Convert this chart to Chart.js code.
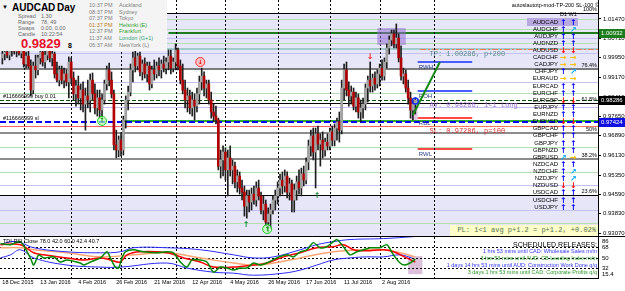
<!DOCTYPE html>
<html>
<head>
<meta charset="utf-8">
<script src="https://cdn.jsdelivr.net/npm/chart.js@4.4.0/dist/chart.umd.min.js"></script>
<style>
  body { margin: 0; width: 625px; height: 291px; overflow: hidden; background: #fff; position: relative; font-family: "Liberation Sans", Arial, sans-serif; }
  canvas { position: absolute; left: 0; }
  #main { top: 0; }
  #osc { top: 236px; }
  .t { position: absolute; white-space: nowrap; line-height: 1; }
  #info { position: absolute; left: 0; top: 0; width: 167px; height: 51px; background: #f4f4f4; }
  #info .lab { font-size: 5.5px; color: #6a6a6a; }
  #info .tm { font-size: 5.5px; color: #808080; }
  .pair { position: absolute; font-size: 6px; color: #000; text-align: right; width: 50px; left: 508px; line-height: 7px; }
  .arr { position: absolute; font-family: "DejaVu Sans", sans-serif; font-weight: bold; font-size: 8px; line-height: 7px; }
</style>
</head>
<body>
<canvas id="main" width="625" height="237"></canvas>
<canvas id="osc" width="625" height="55"></canvas>

<div id="info">
  <div class="t" style="left:2px;top:4px;font-size:6px">▼</div>
  <div class="t" style="left:12px;top:3px;font-size:10px;font-weight:bold">AUDCAD</div>
  <div class="t" style="left:57px;top:3px;font-size:10px;font-weight:bold">Day</div>
  <div class="t lab" style="left:18px;top:14px">Spread</div><div class="t lab" style="left:41px;top:14px">1.30</div>
  <div class="t lab" style="left:18px;top:20px">Range</div><div class="t lab" style="left:41px;top:20px">78, 49</div>
  <div class="t lab" style="left:18px;top:26px">Swaps</div><div class="t lab" style="left:41px;top:26px">0.00, 0.00</div>
  <div class="t lab" style="left:18px;top:32px">Candle</div><div class="t lab" style="left:41px;top:32px">10:22:54</div>
  <div class="t" style="left:21px;top:37px;font-size:13px;font-weight:bold;color:#e8102c">0.9829</div>
  <div class="t" style="left:68px;top:42px;font-size:7px;font-weight:bold">8</div>
  <div class="t tm" style="left:89px;top:3px">10:37 PM</div><div class="t tm" style="left:119px;top:3px">Auckland</div>
  <div class="t tm" style="left:89px;top:10px">08:37 PM</div><div class="t tm" style="left:119px;top:10px">Sydney</div>
  <div class="t tm" style="left:89px;top:16px">07:37 PM</div><div class="t tm" style="left:119px;top:16px">Tokyo</div>
  <div class="t tm" style="left:89px;top:23px;color:#c07a20">01:37 PM</div><div class="t tm" style="left:119px;top:23px;color:#2f9f2f">Helsinki (E)</div>
  <div class="t tm" style="left:89px;top:29px">12:37 PM</div><div class="t tm" style="left:119px;top:29px;color:#2f9f2f">Frankfurt</div>
  <div class="t tm" style="left:89px;top:36px">11:37 AM</div><div class="t tm" style="left:119px;top:36px;color:#2fa07a">London (G+1)</div>
  <div class="t tm" style="left:89px;top:43px">06:37 AM</div><div class="t tm" style="left:119px;top:43px">NewYork (L)</div>
</div>

<div class="t" style="right:26px;top:3px;font-size:5.5px">autoslautotp-mod-TP-200 SL-100 ©</div>
<div class="t" style="left:560px;top:12px;font-size:5.5px">D1 W1</div>
<div style="position:absolute;left:527px;top:18px;width:51px;height:8px;background:#b8a8e0"></div>
<div id="pairs"></div>

<div class="t" style="left:450px;top:225px;width:146px;height:11px;background:#ffffc8;font-family:'Liberation Mono',monospace;font-size:7px;color:#4f6f4f;text-align:right;line-height:11px;padding-right:2px">PL: 1&lt;1 avg p+1.2 = p+1.2, +0.02%</div>

<div class="t" style="left:3px;top:239px;font-size:5.5px">TDI RSI Close 78.0 42.0 60.0 42.4 40.7</div>
<div class="t" style="right:28px;top:241px;text-align:right;line-height:7px;font-size:5.5px">
  <div style="font-size:7px;color:#000">SCHEDULED RELEASES:</div>
  <div style="color:#3434ff">1 hrs 53 mins until CAD: Wholesale Sales m/m</div>
  <div style="color:#2a9a2a">3 hrs 53 mins until AUD: CB Leading Index m/m</div>
  <div style="color:#3434ff">1 days 14 hrs 53 mins until AUD: Construction Work Done q/q</div>
  <div style="color:#2a9a2a">3 days 1 hrs 53 mins until CAD: Corporate Profits q/q</div>
</div>

<script>
const FONT = '"Liberation Sans", Arial, sans-serif';

// ===== daily AUDCAD candles, 18 Dec 2015 .. 22 Aug 2016 =====
const open = [0.9994,1.0009,1.0017,1.0005,1.0025,1.0033,1.0021,1.0029,1.0013,1.0025,
  0.9970,1.0001,0.9962,0.9868,0.9962,0.9947,0.9994,1.0017,0.9978,1.0005,
  1.0025,0.9994,1.0009,0.9931,0.9907,0.9947,0.9907,0.9931,0.9900,0.9978,
  0.9915,0.9853,0.9884,0.9837,0.9868,0.9813,0.9845,0.9829,0.9907,0.9853,
  0.9798,0.9837,0.9790,0.9829,0.9892,0.9947,0.9907,0.9853,0.9653,0.9633,
  0.9672,0.9633,0.9751,0.9829,0.9860,0.9947,0.9994,0.9962,1.0001,0.9939,
  0.9970,0.9931,0.9962,0.9892,0.9947,0.9931,0.9962,0.9947,0.9970,0.9954,
  0.9978,1.0001,0.9954,0.9978,1.0025,0.9962,0.9907,0.9868,0.9829,0.9845,
  0.9798,0.9829,0.9805,0.9853,0.9900,0.9923,0.9876,0.9892,0.9829,0.9782,
  0.9766,0.9751,0.9570,0.9594,0.9625,0.9555,0.9602,0.9555,0.9570,0.9508,
  0.9531,0.9484,0.9468,0.9413,0.9453,0.9429,0.9460,0.9437,0.9484,0.9453,
  0.9398,0.9421,0.9351,0.9382,0.9398,0.9437,0.9453,0.9484,0.9515,0.9492,
  0.9531,0.9468,0.9500,0.9437,0.9476,0.9508,0.9484,0.9539,0.9515,0.9586,
  0.9649,0.9688,0.9625,0.9696,0.9656,0.9672,0.9633,0.9664,0.9649,0.9704,
  0.9672,0.9719,0.9743,0.9711,0.9876,0.9947,0.9868,0.9845,0.9860,0.9805,
  0.9837,0.9782,0.9798,0.9813,0.9876,0.9907,0.9884,0.9915,0.9892,0.9931,
  0.9954,0.9923,0.9978,1.0033,1.0064,1.0088,1.0049,1.0072,0.9994,0.9923,
  0.9931,0.9876,0.9837,0.9790,0.9813];
const high = [1.0025,1.0037,1.0045,1.0033,1.0049,1.0056,1.0045,1.0052,1.0041,1.0041,
  1.0017,1.0025,0.9986,0.9978,1.0005,1.0005,1.0033,1.0041,1.0025,1.0045,
  1.0049,1.0033,1.0017,0.9978,0.9962,0.9962,0.9954,0.9947,0.9998,0.9994,
  0.9939,0.9907,0.9923,0.9892,0.9900,0.9876,0.9907,0.9931,0.9935,0.9892,
  0.9868,0.9868,0.9853,0.9907,0.9962,0.9974,0.9939,0.9868,0.9711,0.9688,
  0.9700,0.9766,0.9845,0.9884,0.9970,1.0017,1.0025,1.0013,1.0017,0.9986,
  0.9994,0.9978,0.9978,0.9962,0.9986,0.9978,0.9994,0.9986,1.0001,0.9994,
  1.0025,1.0025,0.9994,1.0049,1.0033,0.9986,0.9970,0.9907,0.9876,0.9868,
  0.9860,0.9853,0.9876,0.9923,0.9954,0.9939,0.9907,0.9907,0.9860,0.9813,
  0.9805,0.9758,0.9633,0.9649,0.9641,0.9633,0.9649,0.9594,0.9586,0.9555,
  0.9547,0.9515,0.9492,0.9476,0.9476,0.9484,0.9492,0.9508,0.9515,0.9468,
  0.9453,0.9437,0.9406,0.9421,0.9453,0.9476,0.9508,0.9539,0.9547,0.9555,
  0.9547,0.9523,0.9515,0.9500,0.9531,0.9555,0.9562,0.9570,0.9602,0.9672,
  0.9711,0.9719,0.9719,0.9727,0.9696,0.9704,0.9680,0.9696,0.9719,0.9727,
  0.9735,0.9758,0.9782,0.9907,0.9970,0.9978,0.9900,0.9884,0.9876,0.9860,
  0.9853,0.9829,0.9837,0.9892,0.9923,0.9978,0.9931,0.9939,0.9947,0.9970,
  0.9986,0.9994,1.0049,1.0080,1.0103,1.0103,1.0127,1.0088,1.0041,0.9954,
  0.9947,0.9907,0.9860,0.9829,0.9837];
const low = [0.9970,0.9986,0.9994,0.9986,1.0001,1.0009,0.9998,1.0005,0.9994,0.9958,
  0.9954,0.9954,0.9845,0.9853,0.9915,0.9927,0.9970,0.9962,0.9954,0.9986,
  0.9978,0.9962,0.9915,0.9900,0.9884,0.9892,0.9876,0.9884,0.9837,0.9892,
  0.9829,0.9805,0.9813,0.9790,0.9782,0.9711,0.9798,0.9782,0.9829,0.9774,
  0.9766,0.9758,0.9766,0.9813,0.9868,0.9884,0.9837,0.9633,0.9602,0.9606,
  0.9609,0.9613,0.9719,0.9790,0.9845,0.9900,0.9939,0.9947,0.9923,0.9907,
  0.9915,0.9900,0.9868,0.9876,0.9907,0.9915,0.9923,0.9915,0.9939,0.9931,
  0.9947,0.9931,0.9939,0.9947,0.9947,0.9892,0.9853,0.9798,0.9782,0.9774,
  0.9766,0.9751,0.9782,0.9813,0.9868,0.9845,0.9837,0.9813,0.9758,0.9743,
  0.9735,0.9555,0.9523,0.9531,0.9515,0.9453,0.9531,0.9500,0.9484,0.9468,
  0.9460,0.9437,0.9374,0.9366,0.9390,0.9398,0.9421,0.9413,0.9437,0.9382,
  0.9359,0.9335,0.9312,0.9327,0.9382,0.9398,0.9421,0.9453,0.9460,0.9468,
  0.9445,0.9437,0.9390,0.9390,0.9437,0.9460,0.9453,0.9492,0.9500,0.9555,
  0.9609,0.9594,0.9484,0.9633,0.9570,0.9602,0.9609,0.9633,0.9633,0.9649,
  0.9649,0.9672,0.9664,0.9696,0.9829,0.9845,0.9805,0.9813,0.9790,0.9782,
  0.9758,0.9743,0.9758,0.9790,0.9821,0.9860,0.9860,0.9868,0.9876,0.9884,
  0.9907,0.9907,0.9954,1.0009,1.0041,1.0033,1.0033,0.9978,0.9907,0.9892,
  0.9860,0.9813,0.9758,0.9751,0.9774];
const close = [1.0009,1.0017,1.0005,1.0025,1.0033,1.0021,1.0029,1.0013,1.0025,0.9970,
  1.0001,0.9962,0.9868,0.9962,0.9947,0.9994,1.0017,0.9978,1.0005,1.0025,
  0.9994,1.0009,0.9931,0.9907,0.9947,0.9907,0.9931,0.9900,0.9978,0.9915,
  0.9853,0.9884,0.9837,0.9868,0.9813,0.9845,0.9829,0.9907,0.9853,0.9798,
  0.9837,0.9790,0.9829,0.9892,0.9947,0.9907,0.9853,0.9653,0.9633,0.9672,
  0.9633,0.9751,0.9829,0.9860,0.9947,0.9994,0.9962,1.0001,0.9939,0.9970,
  0.9931,0.9962,0.9892,0.9947,0.9931,0.9962,0.9947,0.9970,0.9954,0.9978,
  1.0001,0.9954,0.9978,1.0025,0.9962,0.9907,0.9868,0.9829,0.9845,0.9798,
  0.9829,0.9805,0.9853,0.9900,0.9923,0.9876,0.9892,0.9829,0.9782,0.9766,
  0.9751,0.9570,0.9594,0.9625,0.9555,0.9602,0.9555,0.9570,0.9508,0.9531,
  0.9484,0.9468,0.9413,0.9453,0.9429,0.9460,0.9437,0.9484,0.9453,0.9398,
  0.9421,0.9351,0.9382,0.9398,0.9437,0.9453,0.9484,0.9515,0.9492,0.9531,
  0.9468,0.9500,0.9437,0.9476,0.9508,0.9484,0.9539,0.9515,0.9586,0.9649,
  0.9688,0.9625,0.9696,0.9656,0.9672,0.9633,0.9664,0.9649,0.9704,0.9672,
  0.9719,0.9743,0.9711,0.9876,0.9947,0.9868,0.9845,0.9860,0.9805,0.9837,
  0.9782,0.9798,0.9813,0.9876,0.9907,0.9884,0.9915,0.9892,0.9931,0.9954,
  0.9923,0.9978,1.0033,1.0064,1.0088,1.0049,1.0072,0.9994,0.9923,0.9931,
  0.9876,0.9837,0.9790,0.9813,0.9829];

// axis labels
const dateLabels = ['18 Dec 2015','13 Jan 2016','4 Feb 2016','26 Feb 2016','21 Mar 2016','12 Apr 2016','4 May 2016','26 May 2016','17 Jun 2016','11 Jul 2016','2 Aug 2016'];
const dateBars = [0,16,32,48,64,80,96,112,128,144,160];
const monthBars = [9,29,50,73,94,116,138,159,182];
const priceTicks = [1.0147,1.0071,0.9995,0.9917,0.9841,0.9765,0.9689,0.9613,0.9535,0.9459,0.9383,0.9307];
const rsiTicks = [15.4,32,50,68,86];

// ===== levels on the price chart =====
const fibPrices = [1.0170,0.9951,0.9817,0.9700,0.9598,0.9457];
const fibNames = ['100%','76.4%','61.8%','50%','38.2%','23.6%'];
const pivotGreen = [1.0147,1.0107,1.0052,0.9856,0.9645,0.9547,0.9347];
const pivotLav = [1.0072,1.0013,0.9900,0.9802,0.9496,0.9398];
const tpPrice = 1.00286, avPrice = 0.98286, slPrice = 0.97286, slOrder = 0.97424;
const highLine = 1.00932, supportLine = 0.9747;
const rangeNames = ['RWH','ROH','RBL','RWL'];
const rangePrices = [0.9978,0.9864,0.9758,0.9637];
const axisTags = [1.00932,0.98286,0.97424];
const upArrows = [[102.7,0.9339],[132.6,0.9453]];
const downArrows = [[155,0.9998]];
const buyCircles = [[42,0.9747],[111.6,0.9323]];
const sellCircles = [[83.4,0.9978]];
const trendArrow = [[173,0.9770],[184.4,0.9978]];
const boxes = [[158,1.0111,170,1.0045],[172,0.9829,175,0.9751]];

// ===== TDI (RSI panel) =====
const tdiGreenX = [-0.8,3.4,7.6,11.8,13.2,15.3,17.4,21.6,24.4,27.2,32.8,34.3,37.1,41.3,44.1,45.5,47.6,49,50.4,51.8,55.3,59.5,65.1,69.3,72.1,75,77.8,79.9,83.4,86.2,89,91.8,94.6,97.4,100.2,103,105.8,108.6,111.4,115.7,119.9,122.7,125.5,128.3,131.1,133.9,136.7,139.5,141,143.7,146.5,149.3,152.1,155,159.2,162,164.8,167.6,169.7,172.5,174];
const tdiGreen = [74.6,72.8,78,50,37.7,55.3,50,51.8,43,46.5,41.2,37.7,43,50,60.5,50,34.2,32.5,50,60.5,64,60.5,58.8,60.5,58.8,43,34.2,46.5,46.5,43,25.4,34.2,32.5,29,32.5,32.5,41.2,37.7,41.2,50,55.3,51.8,60.5,64,76.3,67.5,69.3,78,81.6,69.3,55.3,60.5,64,67.5,67.5,72.8,55.3,41.2,37.7,43,48];
const tdiRedX = [-0.8,7.6,13.2,17.4,27.2,34.3,41.3,45.5,49.7,52.5,58.1,69.3,76.4,83.4,89,97.4,105.8,111.4,118.5,125.5,132.5,139.5,143.7,148,153.5,160.6,164.8,170.4,174];
const tdiRed = [72.8,72.8,58.8,55.3,50,46.5,50,46.5,43,55.3,60.5,58.8,50,43,34.2,34.2,37.7,41.2,51.8,58.8,67.5,69.3,72.8,64,62.3,64,60.5,50,43];
const bandUpX = [-0.8,3.4,7.6,13.2,27.2,41.3,49.7,55.3,69.3,83.4,97.4,105.8,114.3,125.5,132.5,139.5,146.5,160.6,174];
const bandUp = [72.8,78,76.3,67.5,60.5,58.8,60.5,67.5,67.5,64,55.3,50,51.8,64,72.8,78,81.6,83.3,86.8];
const bandLowX = [-0.8,3.4,7.6,13.2,27.2,41.3,49.7,69.3,77.8,89,97.4,105.8,118.5,125.5,132.5,139.5,146.5,153.5,160.6,167.6,172.5];
const bandLow = [50,55.3,64,50,37.7,34.2,34.2,41.2,32.5,25.4,23.7,20.2,23.7,29,37.7,46.5,50,51.8,51.8,55.3,50];
const baseX = [-0.8,7.6,13.2,27.2,41.3,55.3,69.3,83.4,97.4,105.8,114.3,125.5,139.5,153.5,160.6,167.6,174];
const baseV = [67.5,67.5,64,58.8,51.8,55.3,58.8,50,41.2,37.7,41.2,50,60.5,64,64,58.8,51.8];
const rsiBox = [171,53,177,22];

// ===== currency strength list =====
const pairs = ['AUDCAD','AUDCHF','AUDJPY','AUDNZD','AUDUSD','CADCHF','CADJPY','CHFJPY','EURAUD','EURCAD','EURCHF','EURGBP','EURJPY','EURNZD','EURUSD','GBPCAD','GBPCHF','GBPJPY','GBPNZD','GBPUSD','NZDCAD','NZDCHF','NZDJPY','NZDUSD','USDCAD','USDCHF','USDJPY'];
const trendD1 = ['u','u','u','u','d','r','r','u','r','u','u','d','u','u','d','u','u','u','u','ur','u','u','u','d','u','u','u'];
const trendW1 = ['u','ur','u','u','d','r','r','ur','r','u','u','d','u','u','d','u','u','u','u','r','u','ur','ur','d','u','u','u'];

const arrowGlyph = { u: ['↑', '#0000ff'], d: ['↓', '#ff0000'], r: ['→', '#ffc000'], ur: ['↗', '#00a8ff'] };
const pairsDiv = document.getElementById('pairs');
pairs.forEach((p, k) => {
  const top = 18.5 + k * 7.12;
  pairsDiv.insertAdjacentHTML('beforeend',
    `<div class="pair" style="top:${top}px">${p}</div>` +
    `<div class="arr" style="left:560px;top:${top}px;color:${arrowGlyph[trendD1[k]][1]}">${arrowGlyph[trendD1[k]][0]}</div>` +
    `<div class="arr" style="left:570px;top:${top}px;color:${arrowGlyph[trendW1[k]][1]}">${arrowGlyph[trendW1[k]][0]}</div>`);
});

// ===== drawing helpers =====
function hline(ctx, a, py, color, width, dash, x0) {
  ctx.strokeStyle = color;
  ctx.lineWidth = width;
  ctx.setLineDash(dash || []);
  const yy = width % 2 ? Math.round(py) + 0.5 : Math.round(py);
  ctx.beginPath();
  ctx.moveTo(x0 === undefined ? a.left : x0, yy);
  ctx.lineTo(a.right, yy);
  ctx.stroke();
}

function separators(ctx, a, xs) {
  ctx.strokeStyle = '#000';
  ctx.lineWidth = 1;
  ctx.setLineDash([2, 2]);
  monthBars.forEach(b => {
    const px = Math.round(xs.getPixelForValue(b)) + 0.5;
    ctx.beginPath();
    ctx.moveTo(px, a.top);
    ctx.lineTo(px, a.bottom);
    ctx.stroke();
  });
  ctx.setLineDash([]);
}

const mainPlugin = {
  id: 'mtLevels',
  beforeDatasetsDraw(chart) {
    const { ctx, chartArea: a, scales: { x, y } } = chart;
    ctx.save();
    // lavender fib zones
    ctx.fillStyle = '#e6e6f8';
    let y1 = y.getPixelForValue(fibPrices[0]), y2 = y.getPixelForValue(fibPrices[1]);
    ctx.fillRect(a.left, y1, a.right - a.left, y2 - y1);
    y1 = y.getPixelForValue(fibPrices[5]);
    ctx.fillRect(a.left, y1, a.right - a.left, a.bottom - y1);

    pivotGreen.forEach(p => hline(ctx, a, y.getPixelForValue(p), '#b2e0b2', 1));
    pivotLav.forEach(p => hline(ctx, a, y.getPixelForValue(p), '#c2c2f2', 1));
    hline(ctx, a, y.getPixelForValue(tpPrice), '#a2cccc', 2);

    const fibStyle = [['#000', 1], ['#7c7c7c', 2], ['#000', 1], ['#8c8c8c', 2], ['#8c8c8c', 2], ['#000', 1]];
    fibPrices.forEach((p, i) => hline(ctx, a, y.getPixelForValue(p), fibStyle[i][0], fibStyle[i][1]));

    hline(ctx, a, y.getPixelForValue(highLine), '#1d7d1d', 2, null, x.getPixelForValue(70));
    hline(ctx, a, y.getPixelForValue(supportLine), '#2db02d', 2, null, x.getPixelForValue(50));
    hline(ctx, a, y.getPixelForValue(avPrice), '#005a00', 1, [4, 2]);
    hline(ctx, a, y.getPixelForValue(slPrice), '#ff6060', 1);
    hline(ctx, a, y.getPixelForValue(slOrder), '#0000ff', 2, [6, 3]);

    const xr0 = x.getPixelForValue(175), xr1 = x.getPixelForValue(198);
    rangePrices.forEach((p, i) => {
      ctx.strokeStyle = i < 2 ? '#4b5cff' : '#ff4848';
      ctx.lineWidth = 2;
      ctx.setLineDash([]);
      const py = Math.round(y.getPixelForValue(p));
      ctx.beginPath(); ctx.moveTo(xr0, py); ctx.lineTo(xr1, py); ctx.stroke();
    });
    hline(ctx, a, y.getPixelForValue(tpPrice), '#ff7a5a', 1, [6, 2, 2, 2], x.getPixelForValue(176));
    hline(ctx, a, y.getPixelForValue(slPrice), '#ff7a5a', 1, [6, 2, 2, 2], x.getPixelForValue(176));

    separators(ctx, a, x);

    boxes.forEach((b, i) => {
      ctx.fillStyle = i === 0 ? 'rgba(150,110,210,0.55)' : 'rgba(210,160,210,0.6)';
      const bx = x.getPixelForValue(b[0]), by = y.getPixelForValue(b[1]);
      ctx.fillRect(bx, by, x.getPixelForValue(b[2]) - bx, y.getPixelForValue(b[3]) - by);
    });
    ctx.restore();
  },
  afterDatasetsDraw(chart) {
    const { ctx, chartArea: a, scales: { x, y } } = chart;
    ctx.save();
    ctx.font = '5.5px ' + FONT;
    ctx.fillStyle = '#000';
    ctx.textAlign = 'right';
    ctx.textBaseline = 'bottom';
    fibPrices.forEach((p, i) => ctx.fillText(fibNames[i], a.right - 1, Math.round(y.getPixelForValue(p)) - 1));

    ctx.textAlign = 'left';
    ctx.fillText('#116666999 buy 0.01', 3, Math.round(y.getPixelForValue(avPrice)) - 1);
    ctx.fillText('#116666999 sl', 3, Math.round(y.getPixelForValue(slOrder)) - 1);

    ctx.textBaseline = 'top';
    ctx.font = '7px "Liberation Mono", monospace';
    const tx = x.getPixelForValue(180);
    ctx.fillStyle = '#5a8a8a';
    ctx.fillText('TP: 1.00286, p+200', tx, Math.round(y.getPixelForValue(tpPrice)) + 2);
    ctx.fillStyle = '#a070d8';
    ctx.fillText('AV: 0.98286, 1<1 Long', tx, Math.round(y.getPixelForValue(avPrice)) + 2);
    ctx.fillStyle = '#d83030';
    ctx.fillText('SL: 0.97286, p=100', tx, Math.round(y.getPixelForValue(slPrice)) + 2);

    ctx.font = '6px ' + FONT;
    ctx.fillStyle = '#283a8a';
    rangeNames.forEach((n, i) => ctx.fillText(n, x.getPixelForValue(175.5), Math.round(y.getPixelForValue(rangePrices[i])) + 2));

    // trend arrow
    ctx.strokeStyle = '#148a14';
    ctx.lineWidth = 2;
    ctx.beginPath();
    ctx.moveTo(x.getPixelForValue(trendArrow[0][0]), y.getPixelForValue(trendArrow[0][1]));
    ctx.lineTo(x.getPixelForValue(trendArrow[1][0]), y.getPixelForValue(trendArrow[1][1]));
    ctx.stroke();

    // signal markers
    ctx.font = 'bold 8px "DejaVu Sans", sans-serif';
    ctx.textAlign = 'center';
    ctx.textBaseline = 'middle';
    ctx.fillStyle = '#1a8a3a';
    upArrows.forEach(m => ctx.fillText('↑', x.getPixelForValue(m[0]), y.getPixelForValue(m[1])));
    ctx.fillStyle = '#ff2020';
    downArrows.forEach(m => ctx.fillText('↓', x.getPixelForValue(m[0]), y.getPixelForValue(m[1])));
    ctx.lineWidth = 1;
    buyCircles.forEach(m => {
      const cx = x.getPixelForValue(m[0]), cy = y.getPixelForValue(m[1]);
      ctx.fillStyle = 'rgba(180,255,180,0.7)'; ctx.strokeStyle = '#20d020';
      ctx.beginPath(); ctx.arc(cx, cy, 4.5, 0, Math.PI * 2); ctx.fill(); ctx.stroke();
      ctx.fillStyle = '#108010'; ctx.font = 'bold 6px "DejaVu Sans", sans-serif';
      ctx.fillText('↑', cx, cy);
    });
    sellCircles.forEach(m => {
      const cx = x.getPixelForValue(m[0]), cy = y.getPixelForValue(m[1]);
      ctx.fillStyle = 'rgba(255,190,190,0.8)'; ctx.strokeStyle = '#ff3030';
      ctx.beginPath(); ctx.arc(cx, cy, 4.5, 0, Math.PI * 2); ctx.fill(); ctx.stroke();
      ctx.fillStyle = '#e00000';
      ctx.fillText('↓', cx, cy);
    });
    ctx.strokeStyle = '#1030ff';
    ctx.lineWidth = 1.5;
    ctx.beginPath(); ctx.arc(x.getPixelForValue(174), y.getPixelForValue(0.9825), 3, 0, Math.PI * 2); ctx.stroke();
    ctx.restore();
  },
  afterDraw(chart) {
    const { ctx, chartArea: a, scales: { y } } = chart;
    ctx.save();
    const tagBg = ['#1d7d1d', '#000000', '#1010e0'];
    ctx.font = '6px ' + FONT;
    ctx.textAlign = 'left';
    ctx.textBaseline = 'middle';
    axisTags.forEach((p, i) => {
      const py = Math.round(y.getPixelForValue(p));
      ctx.fillStyle = tagBg[i];
      ctx.fillRect(a.right + 1, py - 4, 26, 9);
      ctx.fillStyle = '#fff';
      ctx.fillText(p.toFixed(5), a.right + 3, py + 0.5);
    });
    ctx.strokeStyle = '#000';
    ctx.lineWidth = 1;
    ctx.beginPath(); ctx.moveTo(0, a.bottom - 0.5); ctx.lineTo(625, a.bottom - 0.5); ctx.stroke();
    ctx.restore();
  }
};

const idx = close.map((c, i) => i);
new Chart(document.getElementById('main'), {
  type: 'bar',
  data: {
    datasets: [
      { data: idx.map(i => ({ x: i, y: [low[i], high[i]] })), backgroundColor: '#1e1e1e', barThickness: 1, grouped: false, order: 2 },
      { data: idx.map(i => ({ x: i, y: [open[i], close[i]] })), backgroundColor: idx.map(i => close[i] >= open[i] ? '#a2a2a2' : '#b00000'),
        barThickness: 2, minBarLength: 1, grouped: false, order: 1 }
    ]
  },
  options: {
    responsive: false, animation: false, events: [],
    layout: { padding: 0 },
    plugins: { legend: { display: false }, tooltip: { enabled: false } },
    scales: {
      x: { type: 'linear', min: -1, max: 251, offset: false, display: false },
      y: {
        position: 'right', min: 0.9292, max: 1.0221, beginAtZero: false,
        afterBuildTicks: s => { s.ticks = priceTicks.map(v => ({ value: v })); },
        afterFit: s => { s.width = 27; s.paddingTop = 0; s.paddingBottom = 0; },
        grid: { drawOnChartArea: false, tickLength: 3, color: '#000' },
        border: { color: '#000' },
        ticks: { padding: 2, color: '#000', font: { size: 6, family: FONT }, callback: v => v.toFixed(5) }
      }
    }
  },
  plugins: [mainPlugin]
});

// ===== TDI panel =====
const oscPlugin = {
  id: 'tdiPanel',
  beforeDatasetsDraw(chart) {
    const { ctx, chartArea: a, scales: { x, y } } = chart;
    ctx.save();
    const bx = x.getPixelForValue(rsiBox[0]), by = y.getPixelForValue(rsiBox[1]);
    ctx.fillStyle = '#dcc0dc';
    ctx.fillRect(bx, by, x.getPixelForValue(rsiBox[2]) - bx, y.getPixelForValue(rsiBox[3]) - by);
    [68, 50, 32].forEach(v => hline(ctx, a, y.getPixelForValue(v), '#000', 1, [2, 2]));
    separators(ctx, a, x);
    ctx.restore();
  },
  afterDraw(chart) {
    const { ctx, chartArea: a, scales: { y } } = chart;
    ctx.save();
    ctx.strokeStyle = '#000';
    ctx.lineWidth = 1;
    ctx.beginPath();
    ctx.moveTo(0, 0.5); ctx.lineTo(625, 0.5);
    ctx.moveTo(0, a.bottom + 0.5); ctx.lineTo(a.right, a.bottom + 0.5);
    ctx.stroke();
    ctx.font = '6px ' + FONT;
    ctx.fillStyle = '#000';
    ctx.textAlign = 'left';
    ctx.textBaseline = 'middle';
    rsiTicks.forEach(v => {
      const py = Math.min(Math.max(y.getPixelForValue(v), a.top + 4), a.bottom - 4);
      ctx.fillText(String(v), a.right + 4, py);
    });
    ctx.restore();
  }
};

const pts = (xs, vs) => xs.map((xv, i) => ({ x: xv, y: vs[i] }));
new Chart(document.getElementById('osc'), {
  type: 'line',
  data: {
    datasets: [
      { data: pts(tdiGreenX, tdiGreen), borderColor: '#008a00', borderWidth: 1.5, tension: 0.25 },
      { data: pts(tdiRedX, tdiRed), borderColor: '#ff0000', borderWidth: 1.5, tension: 0.35 },
      { data: pts(bandUpX, bandUp), borderColor: '#2a2aff', borderWidth: 1, tension: 0.4 },
      { data: pts(bandLowX, bandLow), borderColor: '#2a2aff', borderWidth: 1, tension: 0.4 },
      { data: pts(baseX, baseV), borderColor: '#ffa472', borderWidth: 1.5, tension: 0.4 }
    ]
  },
  options: {
    responsive: false, animation: false, events: [],
    elements: { point: { radius: 0 } },
    layout: { padding: { top: 1, left: 0, right: 0, bottom: 0 } },
    plugins: { legend: { display: false }, tooltip: { enabled: false } },
    scales: {
      x: {
        type: 'linear', min: -1, max: 251, offset: false,
        grid: { display: false, drawTicks: false }, border: { display: false },
        afterBuildTicks: s => { s.ticks = dateBars.map(v => ({ value: v })); },
        afterFit: s => { s.height = 13; s.paddingLeft = 0; s.paddingRight = 0; },
        ticks: { autoSkip: false, maxRotation: 0, align: 'start', padding: 1, color: '#000',
                 font: { size: 5.5, family: FONT }, callback: (v, i) => dateLabels[i] }
      },
      y: {
        position: 'right', min: 15.4, max: 86,
        grid: { display: false }, border: { color: '#000' }, ticks: { display: false },
        afterFit: s => { s.width = 27; s.paddingTop = 0; s.paddingBottom = 0; }
      }
    }
  },
  plugins: [oscPlugin]
});
</script>
</body>
</html>
